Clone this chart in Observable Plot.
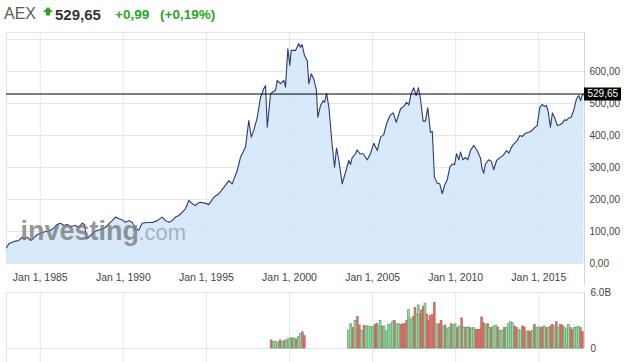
<!DOCTYPE html>
<html><head><meta charset="utf-8">
<script src="https://cdn.jsdelivr.net/npm/d3@7"></script>
<script src="https://cdn.jsdelivr.net/npm/@observablehq/plot@0.6"></script>
<style>
html,body{margin:0;padding:0;background:#fff;}
body{width:637px;height:362px;position:relative;overflow:hidden;font-family:Arial,"Liberation Sans",sans-serif;}
#hdr span{position:absolute;white-space:nowrap;line-height:1;}
#main,#vol{position:absolute;left:0;}
#main{top:30px;}
#vol{top:284px;}
svg{overflow:visible;}
</style></head><body>
<div id="hdr"></div>
<div id="main"></div>
<div id="vol"></div>
<script>
// ---------- header texts ----------
const titleName = "AEX";
const titlePrice = "529,65";
const titleChange = "+0,99";
const titleChangePct = "(+0,19%)";

// ---------- price series (decimal year, index value) ----------
const priceYears = [1982.97,1983.11,1983.32,1983.51,1983.71,1983.92,1984.06,1984.22,1984.42,1984.61,1984.82,
1985.02,1985.32,1985.62,1985.82,1986.02,1986.22,1986.42,1986.62,1986.82,1987.12,1987.32,1987.53,1987.67,1987.79,1987.92,
1988.13,1988.33,1988.53,1988.73,1988.93,1989.13,1989.33,1989.53,1989.73,1989.93,1990.13,1990.33,1990.54,1990.73,1990.93,
1991.14,1991.44,1991.74,1992.04,1992.34,1992.54,1992.74,1992.94,1993.14,1993.34,1993.54,1993.74,1993.94,1994.15,1994.34,
1994.54,1994.65,1994.95,1995.14,1995.45,1995.75,1996.05,1996.35,1996.55,1996.85,1997.05,1997.35,1997.55,1997.7,1997.85,
1998.06,1998.26,1998.45,1998.56,1998.66,1998.86,1998.96,1999.16,1999.26,1999.46,1999.66,1999.76,1999.9,2000.02,2000.1,
2000.36,2000.56,2000.66,2000.76,2000.9,2001.07,2001.16,2001.31,2001.46,2001.62,2001.7,2001.87,2002.03,2002.11,2002.23,
2002.37,2002.57,2002.71,2002.83,2002.97,2003.17,2003.37,2003.57,2003.67,2003.77,2003.97,2004.07,2004.23,2004.43,2004.68,
2004.87,2005.07,2005.28,2005.48,2005.67,2005.84,2006.04,2006.24,2006.42,2006.68,2006.88,2007.04,2007.18,2007.32,2007.48,
2007.62,2007.76,2007.88,2008.04,2008.18,2008.32,2008.48,2008.59,2008.72,2008.89,2009.04,2009.19,2009.33,2009.49,2009.65,
2009.79,2009.93,2010.05,2010.19,2010.29,2010.44,2010.59,2010.73,2010.89,2011.09,2011.29,2011.49,2011.59,2011.69,2011.79,
2011.99,2012.14,2012.29,2012.46,2012.65,2012.86,2013.06,2013.2,2013.34,2013.5,2013.7,2013.86,2014.0,2014.2,2014.4,
2014.6,2014.74,2014.9,2015.06,2015.2,2015.34,2015.46,2015.57,2015.7,2015.82,2015.95,2016.11,2016.26,2016.41,2016.55,
2016.67,2016.81,2016.95,2017.11,2017.27,2017.41,2017.51,2017.61,2017.72];
const priceValues = [49,61.5,66.6,70,72,82,77,82,72,80,90.6,
94.8,100,103,111.5,122,126,119,122,115.6,119,113,126,122,77,82,
93,101,105,108,113,124,134,145,140,136.5,129,134,129,105,105,
126,128,128,134,145,134,129,134,145,150,160,171,197,186.5,181,
190,191.5,188,184,207,218,238,259,249,290,332,363,447,395,416,
457,520,546,556,426,530,535,541,572,562,572,551,671,619,666,
666,687,676,684,650,634,562,593,577,541,457,494,509,504,532,
488,369,301,361,322,249,285,322,309,330,343,355,343,343,324,
343,376,353,395,403,437,462,471,441,483,491,504,496,532,549,
525,549,515,445,445,487,410,413,270,251,249,218,244,262,301,
311,309,343,324,348,324,332,324,353,369,353,330,296,282,311,
324,320,293,322,330,338,353,345,362,374,384,400,397,407,410,
416,424,431,487,497,491,494,473,426,470,457,431,434,438,449,
447,455,457,480,515,525,509,525,529.65];
const lastPrice = 529.65;

// ---------- volume series (decimal year, billions, 1 = up / 0 = down) ----------
const volYears = [1998.92,1999.06,1999.18,1999.32,1999.46,1999.6,1999.72,1999.82,1999.96,2000.06,2000.18,2000.3,2000.42,2000.56,2000.68,2000.8,2000.92,
2003.57,2003.71,2003.83,2003.97,2004.11,2004.23,2004.37,2004.51,2004.63,2004.77,2004.92,2005.04,2005.17,2005.28,2005.37,2005.48,2005.58,2005.72,2005.84,2005.97,
2006.12,2006.24,2006.34,2006.48,2006.6,2006.72,2006.84,2006.96,2007.08,2007.18,2007.28,2007.4,2007.48,2007.58,2007.68,2007.78,2007.88,2007.98,2008.08,2008.18,2008.29,2008.38,
2008.48,2008.62,2008.74,2008.89,2009.03,2009.15,2009.28,2009.39,2009.51,2009.63,2009.75,2009.87,2009.99,2010.11,2010.25,2010.39,2010.51,2010.63,2010.75,2010.89,2010.99,
2011.11,2011.23,2011.35,2011.47,2011.59,2011.71,2011.84,2011.96,2012.03,2012.15,2012.29,2012.44,2012.56,2012.7,2012.82,2012.95,2013.08,2013.2,2013.32,2013.44,2013.56,
2013.68,2013.8,2013.92,2014.04,2014.16,2014.28,2014.4,2014.52,2014.64,2014.76,2014.88,2015.0,2015.12,2015.24,2015.36,2015.48,2015.6,2015.72,2015.84,2015.96,
2016.08,2016.2,2016.32,2016.44,2016.56,2016.69,2016.81,2016.93,2017.05,2017.17,2017.29,2017.41,2017.53,2017.65];
const volValues = [0.87,0.69,0.73,0.63,0.87,0.69,0.8,0.87,0.97,1.08,1.08,1.08,0.97,1.22,1.56,1.74,1.32,
1.91,2.6,2.19,2.95,3.37,2.47,1.91,2.43,2.36,2.36,2.29,2.29,2.53,2.64,2.36,2.95,2.36,2.36,1.84,2.53,
2.6,2.88,2.95,2.6,2.6,2.53,2.6,2.6,2.95,4.1,3.23,3.06,3.4,4.34,3.65,4.62,3.65,4.1,4.44,4.79,3.65,2.95,
3.47,3.58,4.9,2.6,2.6,2.95,2.36,2.47,2.12,2.19,2.6,2.47,2.6,2.19,2.36,3.23,2.26,2.19,2.26,2.19,2.12,
2.19,2.01,2.01,2.01,3.33,2.71,2.53,2.6,2.19,2.19,2.36,2.47,2.26,1.91,1.91,2.19,2.19,2.6,2.81,2.71,2.36,
2.19,2.01,1.91,2.36,2.26,1.77,1.84,1.77,1.91,2.53,2.19,2.26,2.19,2.26,2.36,2.19,2.19,2.36,2.53,2.36,
2.81,2.19,2.53,2.47,2.26,2.12,2.53,2.19,2.01,2.19,2.26,2.33,2.19,1.77];
const volUp = [0,1,1,1,0,1,0,1,1,1,0,1,0,1,1,0,0,
1,1,0,1,0,0,1,0,1,1,1,1,0,0,1,1,0,1,1,1,
1,1,0,1,1,0,0,0,0,1,1,1,0,0,1,1,0,0,0,1,0,0,
0,0,0,1,0,0,1,0,1,1,0,1,1,0,1,0,1,0,1,0,1,
1,0,0,0,0,0,1,0,1,0,1,1,0,1,1,0,1,1,1,1,0,
0,1,1,0,0,1,0,0,1,0,1,1,0,0,1,0,1,0,0,1,
0,1,0,0,1,1,1,0,0,1,1,1,0,0];

// ---------- axes ----------
const xTickYears = [1985,1990,1995,2000,2005,2010,2015];
const yTickValues = [0,100,200,300,400,500,600];
const yGridValues = [0,100,200,300,400,500,600,700];
const volTickValues = [0,6];
const xDomainYears = [1982.97, 2017.75];
const yDomain = [0, 722];
const volDomain = [0, 6];

// ---------- helpers ----------
function decYear(y){const yr=Math.floor(y);const s=Date.UTC(yr,0,1),e=Date.UTC(yr+1,0,1);return new Date(s+(y-yr)*(e-s));}
const locale = d3.formatLocale({decimal:",",thousands:".",grouping:[3],currency:["",""]});
const fmt2 = locale.format(".2f");

const price = priceYears.map((y,i)=>({date:decYear(y), value:priceValues[i]}));
const vol = volYears.map((y,i)=>({t:y, v:volValues[i], up:volUp[i]===1}));
const xTicks = xTickYears.map(y=>decYear(y));
const xStart = decYear(xDomainYears[0]), xEnd = decYear(xDomainYears[1]);

// ---------- header ----------
const hdr = document.getElementById("hdr");
hdr.innerHTML =
 `<span style="left:4px;top:6px;font-size:16px;color:#5a5a5a">${titleName}</span>`+
 `<svg style="position:absolute;left:43px;top:7px" width="10" height="9" viewBox="0 0 10 9"><path d="M5 0 L10 5 L7 5 L7 8.5 L3 8.5 L3 5 L0 5 Z" fill="#27a527"/></svg>`+
 `<span style="left:55px;top:7px;font-size:15px;font-weight:bold;color:#333">${titlePrice}</span>`+
 `<span style="left:115px;top:8px;font-size:13.5px;font-weight:bold;color:#27a527">${titleChange}</span>`+
 `<span style="left:160px;top:8px;font-size:13.5px;font-weight:bold;color:#27a527">${titleChangePct}</span>`;

const font = 'Arial, "Liberation Sans", sans-serif';

// ---------- main chart ----------
const main = Plot.plot({
  width: 637, height: 260,
  marginLeft: 6, marginRight: 53, marginTop: 2, marginBottom: 27,
  style: {fontFamily: font, background: "transparent"},
  x: {type: "utc", domain: [xStart, xEnd], label: null},
  y: {domain: yDomain, label: null},
  marks: [
    Plot.ruleY(yGridValues, {stroke: "#e6e6e6"}),
    Plot.ruleY([yDomain[1]], {stroke: "#e6e6e6"}),
    Plot.ruleX(xTicks, {stroke: "#e6e6e6"}),
    Plot.ruleX([xStart], {stroke: "#e2e2e2", insetBottom: -2}),
    Plot.areaY(price, {x: "date", y: "value", fill: "#d3e6fb", fillOpacity: 0.88}),
    Plot.lineY(price, {x: "date", y: "value", stroke: "#2e3b6f", strokeWidth: 1.1}),
    Plot.text(["investing"], {text: d => d, frameAnchor: "bottom-left", textAnchor: "start", dx: 14, dy: -24, fontSize: 27, fontWeight: "bold", fill: "#7a7a7a", fillOpacity: 0.8}),
    Plot.text([".com"], {text: d => d, frameAnchor: "bottom-left", textAnchor: "start", dx: 132, dy: -23.5, fontSize: 22, fill: "#8a8a8a", fillOpacity: 0.6}),
    Plot.ruleY([lastPrice], {stroke: "#000", strokeWidth: 1}),
    Plot.ruleX([xEnd], {stroke: "#d4d4d4", insetBottom: -22}),
    Plot.axisY(yTickValues, {anchor: "right", tickSize: 0, tickPadding: 5, tickFormat: fmt2, fontSize: 10, color: "#444", label: null}),
    Plot.axisX(xTicks, {anchor: "bottom", tickSize: 0, tickPadding: 10, tickFormat: d => "Jan 1, " + d.getUTCFullYear(), fontSize: 10.5, color: "#444", label: null}),
    Plot.ruleY([{y: lastPrice, x: xEnd}], {y: "y", x1: "x", x2: "x", insetRight: -37, stroke: "#000", strokeWidth: 13}),
    Plot.text([lastPrice], {y: d => d, text: d => fmt2(d), frameAnchor: "right", textAnchor: "start", dx: 3, fill: "#fff", fontSize: 10})
  ]
});
document.getElementById("main").appendChild(main);

// ---------- volume chart ----------
const half = 0.055;
const volChart = Plot.plot({
  width: 637, height: 78,
  marginLeft: 6, marginRight: 53, marginTop: 8, marginBottom: 14,
  style: {fontFamily: font, background: "transparent"},
  x: {type: "utc", domain: [xStart, xEnd], axis: null, label: null},
  y: {domain: volDomain, label: null},
  marks: [
    Plot.ruleX(xTicks, {stroke: "#e6e6e6", insetBottom: -14}),
    Plot.ruleX([xStart], {stroke: "#e2e2e2", insetBottom: -14}),
    Plot.ruleY(volDomain, {stroke: "#e3e3e3"}),
    Plot.ruleX([xEnd], {stroke: "#d4d4d4"}),
    Plot.rectY(vol, {filter: d => !d.up, x1: d => decYear(d.t - half), x2: d => decYear(d.t + half), y: "v", fill: "#d8716a", stroke: "#c65d57", strokeWidth: 0.6}),
    Plot.rectY(vol, {filter: d => d.up, x1: d => decYear(d.t - half), x2: d => decYear(d.t + half), y: "v", fill: "#a3dbb0", stroke: "#5eae70", strokeWidth: 0.8}),
    Plot.axisY(volTickValues, {anchor: "right", tickSize: 0, tickPadding: 6, tickFormat: d => d === 0 ? "0" : d.toFixed(1) + "B", fontSize: 10, color: "#444", label: null})
  ]
});
document.getElementById("vol").appendChild(volChart);
</script>
</body></html>
